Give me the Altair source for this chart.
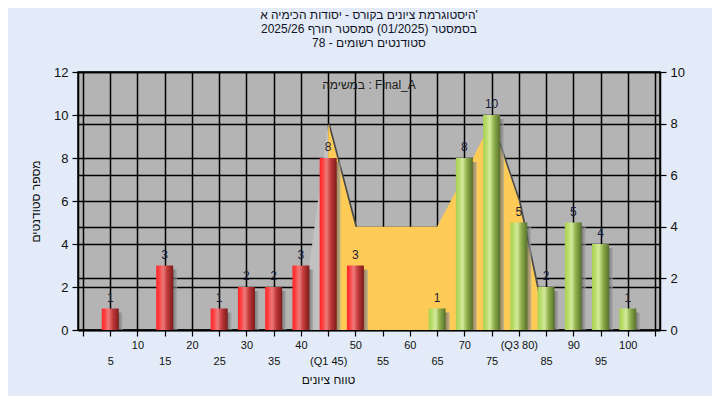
import altair as alt
import pandas as pd

# ---------------- data ----------------
scores = [5, 10, 15, 20, 25, 30, 35, 40, 45, 50, 55, 60, 65, 70, 75, 80, 85, 90, 95, 100]
counts = [1, 0, 3, 0, 1, 2, 2, 3, 8, 3, 0, 0, 1, 8, 10, 5, 2, 5, 4, 1]
tick_labels = ["5", "10", "15", "20", "25", "30", "35", "40", "(Q1 45)", "50",
               "55", "60", "65", "70", "75", "(Q3 80)", "85", "90", "95", "100"]
# distribution curve (right axis, 0-10)
curve_x = [40, 45, 50, 55, 60, 65, 70, 75, 80, 85]
curve_y = [0, 8, 4, 4, 4, 4, 6, 8.1, 5, 0]
pass_from = 55

title_lines = ["היסטוגרמת ציונים בקורס - יסודות הכימיה א'",
               "בסמסטר  (01/2025)  סמסטר חורף 2025/26",
               "סטודנטים רשומים - 78"]
subtitle = "במשימה : Final_A"
y_title = "מספר סטודנטים"
x_title = "טווח ציונים"

FONT = "Liberation Sans, Arial, DejaVu Sans, sans-serif"

bars = pd.DataFrame({"score": scores, "count": counts})
bars["group"] = ["fail" if s < pass_from else "pass" for s in scores]
curve = pd.DataFrame({"score": curve_x, "val": curve_y})

# x axis labels on two alternating rows
parts = []
for i, (s, lab) in enumerate(zip(scores, tick_labels)):
    if i % 2 == 0:
        parts.append(f"datum.value == {s} ? ['', '{lab}']")
    else:
        parts.append(f"datum.value == {s} ? '{lab}'")
label_expr = " : ".join(parts) + " : ''"

x_axis = alt.Axis(values=list(range(0, 110, 5)), labelExpr=label_expr,
                  labelOverlap=False, labelFlush=False, labelBaseline="top",
                  labelLineHeight=16, labelPadding=3, labelFontSize=11,
                  labelColor="#111", labelFont=FONT,
                  tickSize=6, tickColor="black", tickWidth=1.2,
                  domainColor="black", domainWidth=1.5,
                  grid=True, gridColor="black", gridWidth=1.5, gridOpacity=1,
                  title=x_title, titleFont=FONT, titleFontSize=12,
                  titleFontWeight="normal", titleColor="#111",
                  titleX=250, titleY=44, titleBaseline="top", titleAnchor="start",
                  titleAlign="center")
x_enc = alt.X("score:Q", scale=alt.Scale(domain=[0, 105], nice=False, zero=False),
              axis=x_axis)

left_axis = alt.Axis(values=list(range(0, 13, 2)), orient="left",
                     labelFontSize=13, labelColor="#111", labelFont=FONT, labelPadding=4,
                     tickSize=6, tickColor="black", tickWidth=1.2,
                     domainColor="black", domainWidth=1.5,
                     grid=True, gridColor="black", gridWidth=1.5, gridOpacity=1,
                     title=y_title, titleFont=FONT, titleFontSize=12,
                     titleFontWeight="normal", titleColor="#111",
                     titleX=-43, titleY=129, titleAngle=-90,
                     titleBaseline="middle", titleAlign="center")
right_axis = alt.Axis(values=list(range(0, 11, 2)), orient="right",
                      labelFontSize=13, labelColor="#111", labelFont=FONT, labelPadding=4,
                      tickSize=6, tickColor="black", tickWidth=1.2,
                      domainColor="black", domainWidth=1.5,
                      grid=True, gridColor="black", gridWidth=1.5, gridOpacity=1,
                      title=None)

y_left = alt.Y("count:Q", scale=alt.Scale(domain=[0, 12], nice=False), axis=left_axis)
y_right = alt.Y("val:Q", scale=alt.Scale(domain=[0, 10], nice=False), axis=right_axis)


def grad(stops):
    return alt.Gradient(gradient="linear", x1=0, x2=1, y1=0, y2=0,
                        stops=[alt.GradientStop(offset=o, color=c) for o, c in stops])


red = grad([(0, "#FF2828"), (0.15, "#FF3A3A"), (0.4, "#EE7A7A"), (0.65, "#C23A3A"), (1, "#7D1A1A")])
green = grad([(0, "#A9D155"), (0.15, "#B4DA62"), (0.4, "#D4EA9C"), (0.65, "#8FAF4A"), (1, "#56702C")])
shadow = grad([(0, "#2a2a2a"), (0.7, "#4a4a4a"), (1, "#a8a8a8")])

cbase = alt.Chart(curve).encode(x=x_enc, y=y_right)
area_shadow = cbase.mark_area(color="#4a4a4a", xOffset=2, yOffset=1, clip=True)
area_grey = cbase.transform_filter(alt.datum.score <= 45).mark_area(color="#C2C2C2", clip=True)
area_orange = cbase.transform_filter(alt.datum.score >= 45).mark_area(color="#FFCB57", clip=True)
right_group = alt.layer(area_shadow, area_grey, area_orange)

bbase = alt.Chart(bars).encode(x=x_enc, y=y_left)
bar_shadow = bbase.transform_filter(alt.datum["count"] > 0).mark_bar(
    size=17, orient="vertical", color=shadow, opacity=0.65, xOffset=4, yOffset=4, clip=True)
bar_red = bbase.transform_filter(alt.datum.group == "fail").mark_bar(
    size=17, orient="vertical", color=red)
bar_green = bbase.transform_filter(alt.datum.group == "pass").mark_bar(
    size=17, orient="vertical", color=green)
labels = bbase.transform_filter(alt.datum["count"] > 0).mark_text(
    baseline="bottom", dy=-4, fontSize=12, font=FONT, color="#1c1c3a").encode(
    text="count:Q")
left_group = alt.layer(bar_shadow, bar_red, bar_green, labels)

chart = alt.layer(right_group, left_group).resolve_scale(y="independent").properties(
    width=582, height=258,
    autosize=alt.AutoSizeParams(type="none"),
    padding={"left": 70, "top": 64, "right": 52, "bottom": 66},
    background="#E2EBF7",
    title=alt.TitleParams(text=title_lines, subtitle=subtitle, anchor="middle",
                          frame="group", font=FONT, fontSize=12, fontWeight="normal",
                          color="#141428", lineHeight=14,
                          subtitleFont=FONT, subtitleFontSize=12, subtitleColor="#1a1a1a",
                          subtitlePadding=30, offset=-26),
).configure_view(fill="#B4B4B4", stroke="black", strokeWidth=1.5)

chart.save("out.html", embed_options={"renderer": "svg", "actions": False})
